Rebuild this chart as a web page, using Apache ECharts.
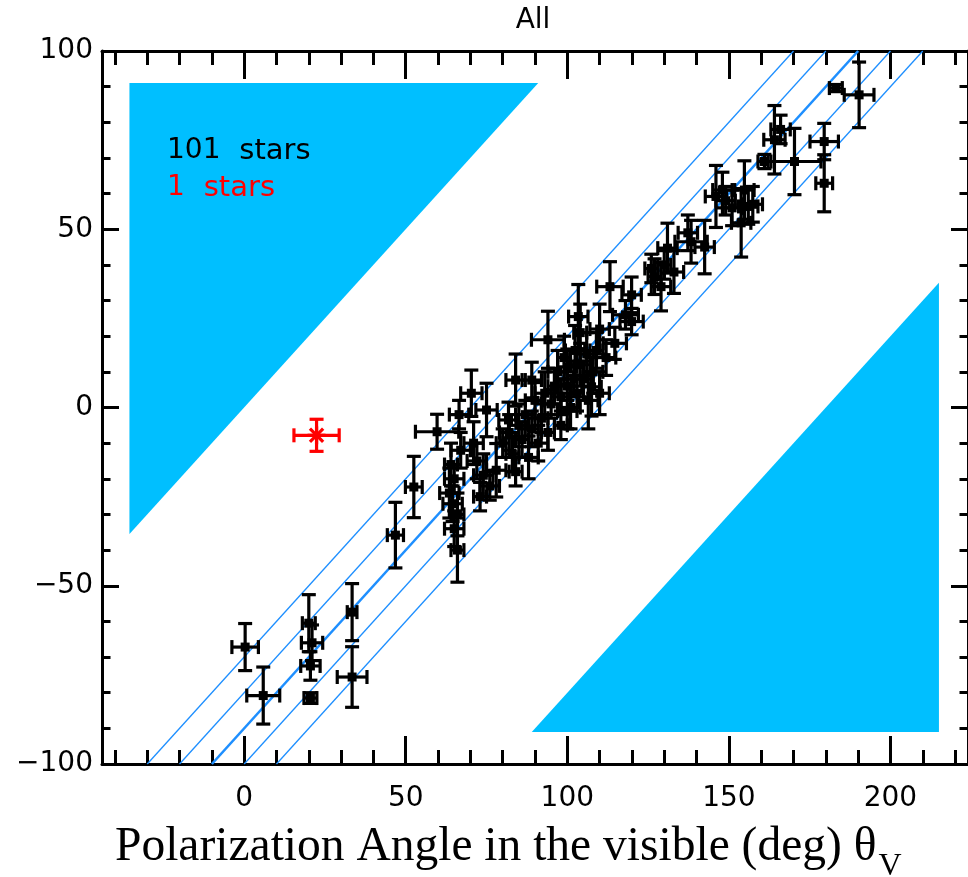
<!DOCTYPE html>
<html>
<head>
<meta charset="utf-8">
<script src="https://cdn.jsdelivr.net/npm/echarts@6/dist/echarts.min.js"></script>
<style>html,body{margin:0;padding:0;background:#fff}#c{width:968px;height:877px}</style>
</head>
<body>
<div id="c"></div>
<script>
// ---- data ----
const xMajor = [0, 50, 100, 150, 200];
const xMinor = [-40,-30,-20,-10,10,20,30,40,60,70,80,90,110,120,130,140,160,170,180,190,210,220];
const yMajor = [-100, -50, 0, 50, 100];
const yMinor = [-90,-80,-70,-60,-40,-30,-20,-10,10,20,30,40,60,70,80,90];
const diagOffsets = [-110, -100, -90, -80, -70];   // lines y = x + c
const centerOffset = -90;
const triUpperLeft = [[-35.5, -35.5], [-35.5, 91], [91, 91]];
const triLowerRight = [[89, -91], [215, -91], [215, 35]];

const starX  = [0.3,5.9,20,21,20.5,20.5,33.4,33.4,46.8,52.5,59.7,70.3,75,64,65,63.5,64.5,66,65,66,67,66.5,71,72,74,76,73,78,80,82,83,85,84,86,87,88,89,90,91,92,93,94,95,96,84,89,81.8,94,97,98,99,100,100,101,102,102.4,103.4,103,104,104,105,106,106.5,107.5,108,109,110,112,114.7,113.2,119.9,119.9,126,127,129,131,130,133,137.3,138.3,142.5,146,148,149,151,154.8,156,153.8,157.4,161,164.1,166,170.3,179.5,179.5,183.1,190.3,110,118,98,100];
const starY  = [-67.2,-80.8,-60.5,-66,-72.5,-81.5,-57.4,-75.6,-35.8,-22.3,-6.8,4,-0.7,-16,-20,-24,-27,-30,-34,-40,-12,-2,-10,-15,-19,-22,-25,-17.6,-10,-7,-13,-5,-18,-9,-2,-14,-6,2,-10,-3,4,-7,1,6,7.7,7.7,-3.5,19,10,3,14,11.4,6,0,8,16,25.5,4,12,21,8,15,2,5.8,10,16,22,14,18,33.9,31.6,24.1,39,36.7,33.9,44.7,40,38,49,46.5,45,59.2,61,58,56,61,56.4,51.8,57,69,75.1,78,69,74.6,62.9,89.6,87.7,4,26,-5,-1];
const starEX = [4.1,5.1,2,3.3,3,2,1.5,4.6,2.5,2.6,6.7,3.3,3.3,2,3,3,3,2,3,2,3,3,3,3,3,3,2,3,2,3,2,3,2,2,3,3,2,3,3,2,3,2,3,2,3,3,3,5.1,3,3,2,3,2,3,3,3,3,2,3,2,3,3,3,3,3,2,3,3,3.6,4.1,3,3.6,2,2,3,3,2,3,3,5,3,3.3,3,3,3,3,3,3,3,2,3.3,3,8.2,4.4,2.6,2,4.6,3,4,2,3];
const starEY = [6.6,8,8,5,4,1.5,8,8.5,9.2,8.6,4.9,6.5,7.5,6,4,7,5,6,5,9,5,4,6,5,6,4,4,7.5,4,5,5,6,4,5,4,6,5,5,5,4,6,5,4,5,7.3,5,5,8,6,5,6,5,4,6,5,7,9,5,6,8,5,6,8,8.2,6,5,7,5,4.5,7,5,3.7,4,5,6.8,7,4,6,5,6,7.5,8.7,5,4,5,8.2,5,9.6,5,2,9.6,4,9.3,5.1,8,1,9.2,6,4,4,5];

const redX = [22.4], redY = [-7.8], redEX = [7], redEY = [4.5];

const starsData = starX.map((v, i) => [v, starY[i], starEX[i], starEY[i]]);
const redData = redX.map((v, i) => [v, redY[i], redEX[i], redEY[i]]);

// ---- chart ----
const chart = echarts.init(document.getElementById('c'), null, {renderer: 'canvas'});
const XMIN = -44, XMAX = 224, YMIN = -100, YMAX = 100;
const AX = {color: '#000', width: 3};
const FONT = 'DejaVu Sans';
const fmtMinus = v => String(v).replace('-', '\u2212');

function xAx(pos, vals, len, labels, line) {
  return {
    type: 'value', min: XMIN, max: XMAX, position: pos,
    axisLine: {show: line, onZero: false, lineStyle: AX},
    axisTick: {show: true, inside: true, length: len, customValues: vals, lineStyle: AX},
    axisLabel: labels ? {customValues: vals, fontSize: 28, fontFamily: FONT, color: '#000', margin: 21}
                      : {show: false},
    splitLine: {show: false}
  };
}
function yAx(pos, vals, len, labels, line) {
  return {
    type: 'value', min: YMIN, max: YMAX, position: pos,
    axisLine: {show: line, onZero: false, lineStyle: AX},
    axisTick: {show: true, inside: true, length: len, customValues: vals, lineStyle: AX},
    axisLabel: labels ? {customValues: vals, fontSize: 28, fontFamily: FONT, color: '#000', margin: 9, formatter: fmtMinus}
                      : {show: false},
    splitLine: {show: false}
  };
}

function errRender(color, star) {
  return function (params, api) {
    const x = api.value(0), y = api.value(1), ex = api.value(2), ey = api.value(3);
    const c = api.coord([x, y]);
    const l = api.coord([x - ex, y]), r = api.coord([x + ex, y]);
    const t = api.coord([x, y + ey]), b = api.coord([x, y - ey]);
    const cap = 7;
    const st = {stroke: color, lineWidth: 3.2};
    const seg = (x1, y1, x2, y2) => ({type: 'line', shape: {x1, y1, x2, y2}, style: st});
    const children = [
      seg(l[0], c[1], r[0], c[1]),
      seg(c[0], t[1], c[0], b[1]),
      seg(l[0], c[1] - cap, l[0], c[1] + cap),
      seg(r[0], c[1] - cap, r[0], c[1] + cap),
      seg(c[0] - cap, t[1], c[0] + cap, t[1]),
      seg(c[0] - cap, b[1], c[0] + cap, b[1])
    ];
    if (star) {
      const s = 9, d = 6.6;
      children.push(seg(c[0] - s, c[1], c[0] + s, c[1]));
      children.push(seg(c[0], c[1] - s, c[0], c[1] + s));
      children.push(seg(c[0] - d, c[1] - d, c[0] + d, c[1] + d));
      children.push(seg(c[0] - d, c[1] + d, c[0] + d, c[1] - d));
    } else {
      children.push({type: 'rect', shape: {x: c[0] - 4.5, y: c[1] - 4.5, width: 9, height: 9}, style: {fill: color}});
    }
    return {type: 'group', children};
  };
}

function triRender(params, api) {
  const pts = [];
  for (let k = 0; k < 3; k++) pts.push(api.coord([api.value(2 * k), api.value(2 * k + 1)]));
  return {type: 'polygon', shape: {points: pts}, style: {fill: '#00bfff'}};
}

const diagSeries = diagOffsets.map(c => ({
  type: 'line', xAxisIndex: 0, yAxisIndex: 0, z: 3,
  data: [[YMIN - c, YMIN], [YMAX - c, YMAX]],
  showSymbol: false, symbol: 'none', silent: true, animation: false,
  lineStyle: {color: '#1e8fff', width: c === centerOffset ? 2.6 : 1.3}
}));

const legendText = (x, y, num, fill) => ({
  type: 'text', x, y, z: 100,
  style: {
    text: '{a|' + num + ' }{b|stars}', align: 'left', verticalAlign: 'middle', textAlign: 'left', textVerticalAlign: 'middle',
    rich: {
      a: {fontFamily: FONT, fontSize: 28, fill, color: fill},
      b: {fontFamily: FONT, fontSize: 29, fill, color: fill, padding: [0, 0, 0, 10]}
    }
  }
});

chart.setOption({
  animation: false,
  backgroundColor: '#fff',
  grid: {left: 102, top: 51, width: 869, height: 713, containLabel: false},
  xAxis: [
    xAx('bottom', xMajor, 28, true, true),
    xAx('bottom', xMinor, 14, false, false),
    xAx('top', xMajor, 28, false, true),
    xAx('top', xMinor, 14, false, false)
  ],
  yAxis: [
    yAx('left', yMajor, 17, true, true),
    yAx('left', yMinor, 8.5, false, false),
    yAx('right', yMajor, 17, false, true),
    yAx('right', yMinor, 8.5, false, false)
  ],
  series: [
    {type: 'custom', z: 1, silent: true, renderItem: triRender,
     data: [triUpperLeft.flat(), triLowerRight.flat()], encode: {x: [0, 2, 4], y: [1, 3, 5]}},
    ...diagSeries,
    {type: 'custom', z: 5, silent: true, renderItem: errRender('#000', false), data: starsData, encode: {x: 0, y: 1}},
    {type: 'custom', z: 6, silent: true, renderItem: errRender('#ff0000', true), data: redData, encode: {x: 0, y: 1}}
  ],
  graphic: {
    elements: [
      {type: 'text', x: 533, y: 21, z: 100, style: {text: 'All', font: '28px "DejaVu Sans"', fill: '#000', align: 'center', verticalAlign: 'middle', textAlign: 'center', textVerticalAlign: 'middle'}},
      legendText(167, 151, '101', '#000'),
      legendText(167, 188, '1', '#ff0000'),
      {type: 'text', x: 115, y: 824, z: 100, style: {
        text: '{m|Polarization Angle in the visible (deg) \u03b8}{s|V}',
        align: 'left', verticalAlign: 'top', textAlign: 'left', textVerticalAlign: 'top',
        rich: {
          m: {fontFamily: 'Liberation Serif', fontSize: 47.5, lineHeight: 47, verticalAlign: 'top', fill: '#000', color: '#000'},
          s: {fontFamily: 'Liberation Serif', fontSize: 32, lineHeight: 32, padding: [27, 0, 0, 2], verticalAlign: 'top', fill: '#000', color: '#000'}
        }
      }}
    ]
  }
});
</script>
</body>
</html>
